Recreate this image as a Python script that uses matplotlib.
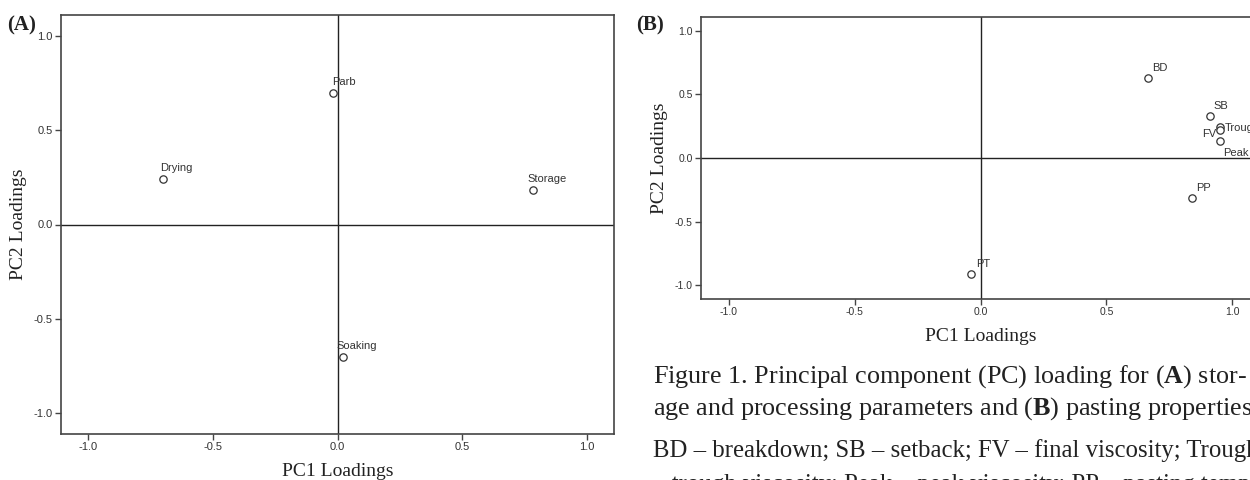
import matplotlib

matplotlib.use("Agg")
import matplotlib.pyplot as plt

plt.rcParams["font.family"] = ["Liberation Sans", "DejaVu Sans"]
plt.rcParams["mathtext.fontset"] = "custom"
plt.rcParams["mathtext.rm"] = "Liberation Serif"
plt.rcParams["mathtext.bf"] = "Liberation Serif:bold"

SERIF = ["Liberation Serif", "DejaVu Serif"]

# (A) storage and processing parameters
a_names = ["Parb", "Drying", "Storage", "Soaking"]
a_pc1 = [-0.019, -0.699, 0.785, 0.021]
a_pc2 = [0.699, 0.239, 0.182, -0.701]
# label offsets in pixels
a_offsets = [(-1, 6), (-3, 6), (-6, 6), (-6, 6)]

# (B) pasting properties
b_names = ["BD", "SB", "Trough", "FV", "Peak", "PP", "PT"]
b_pc1 = [0.664, 0.910, 0.953, 0.953, 0.952, 0.840, -0.036]
b_pc2 = [0.626, 0.330, 0.245, 0.224, 0.137, -0.318, -0.917]
b_offsets = [(4, 5), (4, 5), (4, -1), (-4, -4), (3, -7), (4, 5), (5, 5)]
b_align = [("left", "bottom"), ("left", "bottom"), ("left", "center"),
           ("right", "center"), ("left", "top"), ("left", "bottom"),
           ("left", "bottom")]

ticks = [-1.0, -0.5, 0.0, 0.5, 1.0]
tick_labels = ["-1.0", "-0.5", "0.0", "0.5", "1.0"]

caption = [
    r"Figure 1. Principal component (PC) loading for ($\mathbf{A}$) stor-",
    r"age and processing parameters and ($\mathbf{B}$) pasting properties",
    "BD – breakdown; SB – setback; FV – final viscosity; Trough",
    "– trough viscosity; Peak – peak viscosity; PP – pasting temperature",
]
caption_sizes = [18.8, 18.8, 17.8, 17.8]

W, H = 1250, 480
fig = plt.figure(figsize=(W / 100, H / 100), dpi=100)


def px_axes(left, top, right, bottom):
    return fig.add_axes([left / W, 1 - bottom / H, (right - left) / W, (bottom - top) / H])


def style(ax, tick_fs):
    lim = 1.11
    ax.set_xlim(-lim, lim)
    ax.set_ylim(-lim, lim)
    ax.axhline(0, color="#222", lw=1.0, zorder=1)
    ax.axvline(0, color="#222", lw=1.0, zorder=1)
    ax.set_xticks(ticks, tick_labels)
    ax.set_yticks(ticks, tick_labels)
    ax.tick_params(direction="out", length=4, width=1, color="#444",
                   labelsize=tick_fs, labelcolor="#333", pad=2)
    for s in ax.spines.values():
        s.set_color("#444")
        s.set_linewidth(1.2)
    ax.set_xlabel("PC1 Loadings", family=SERIF, fontsize=14, color="#222", labelpad=8)
    ax.set_ylabel("PC2 Loadings", family=SERIF, fontsize=14, color="#222", labelpad=5)


def points(ax, xs, ys, names, offsets, align, fs):
    ax.scatter(xs, ys, s=28, facecolors="white", edgecolors="#333", linewidths=0.9, zorder=3)
    for x, y, n, (dx, dy), (ha, va) in zip(xs, ys, names, offsets, align):
        ax.annotate(n, (x, y), xytext=(dx * 0.72, dy * 0.72), textcoords="offset points",
                    ha=ha, va=va, fontsize=fs, color="#333", zorder=4)


ax_a = px_axes(61, 15, 614, 434)
style(ax_a, 8)
points(ax_a, a_pc1, a_pc2, a_names, a_offsets, [("left", "bottom")] * len(a_names), 8)

ax_b = px_axes(701, 17, 1260, 299)
style(ax_b, 7.5)
points(ax_b, b_pc1, b_pc2, b_names, b_offsets, b_align, 8)

fig.text(7 / W, 1 - 25 / H, "(A)", family=SERIF, fontweight="bold", fontsize=15,
         va="center", ha="left", color="#222")
fig.text(636 / W, 1 - 25 / H, "(B)", family=SERIF, fontweight="bold", fontsize=15,
         va="center", ha="left", color="#222")

for line, fs, ypx in zip(caption, caption_sizes, [377, 409, 451, 485]):
    fig.text(653 / W, 1 - ypx / H, line, family=SERIF, fontsize=fs,
             va="center", ha="left", color="#222")

fig.savefig("out.png", dpi=100)
